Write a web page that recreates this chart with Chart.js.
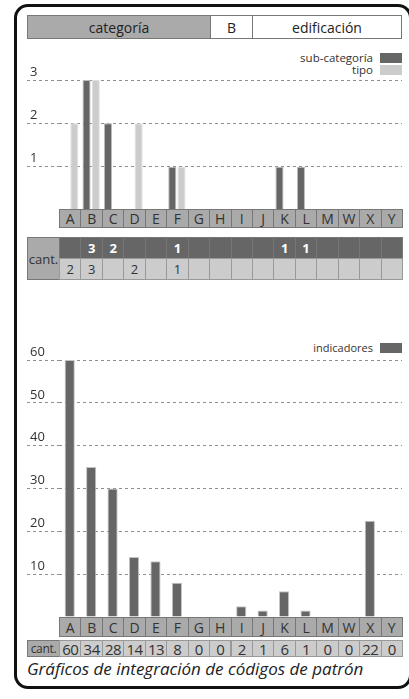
<!DOCTYPE html>
<html>
<head>
<meta charset="utf-8">
<script src="https://cdn.jsdelivr.net/npm/chart.js@4/dist/chart.umd.min.js"></script>
<style>
  body { margin: 0; width: 409px; height: 699px; position: relative; background: #fff; overflow: hidden; font-family: "Open Sans", sans-serif; color: #222; }
  .abs { position: absolute; box-sizing: border-box; }
  .frame { left: 14px; top: 4px; width: 398px; height: 685px; border: 3px solid #111; border-radius: 14px; }
  .cell { position: absolute; box-sizing: border-box; display: flex; align-items: center; justify-content: center; border: 1px solid #777; }
  .hdr { font-size: 14px; color: #222; }
  .cat { background: #aaa; font-size: 14px; color: #333; }
  .dark { background: #666; color: #fff; font-weight: bold; font-size: 13px; border-color: #777; }
  .light { background: #ccc; color: #333; font-size: 13px; border-color: #999; }
  .legend { font-size: 11.5px; color: #333; text-align: right; line-height: 12px; }
  .sw { position: absolute; width: 22px; height: 10px; }
  canvas { position: absolute; left: 0; }
</style>
</head>
<body>
<div class="abs frame"></div>

<div class="cell hdr" style="left:27px;top:15px;width:184px;height:24px;background:#aaa;">categoría</div>
<div class="cell hdr" style="left:210px;top:15px;width:43px;height:24px;background:#fff;">B</div>
<div class="cell hdr" style="left:252px;top:15px;width:150px;height:24px;background:#fff;">edificación</div>

<div class="abs legend" style="right:36px;top:52px;">sub-categoría</div>
<div class="sw" style="left:380px;top:53px;background:#666;"></div>
<div class="abs legend" style="right:36px;top:64px;">tipo</div>
<div class="sw" style="left:380px;top:65px;background:#ccc;"></div>

<canvas id="topChart" width="409" height="170" style="top:40px;"></canvas>

<div class="abs legend" style="right:36px;top:342px;font-size:11px;">indicadores</div>
<div class="sw" style="left:380px;top:343px;background:#666;"></div>

<canvas id="bottomChart" width="409" height="282" style="top:335px;"></canvas>

<div class="abs" style="left:27px;top:657px;font-size:17px;font-style:italic;color:#222;">Gráficos de integración de códigos de patrón</div>

<div id="cells"></div>

<script>
// categorías comunes
const categorias = ['A', 'B', 'C', 'D', 'E', 'F', 'G', 'H', 'I', 'J', 'K', 'L', 'M', 'W', 'X', 'Y'];

// gráfico superior
const subCategoria = [0, 3, 2, 0, 0, 1, 0, 0, 0, 0, 1, 1, 0, 0, 0, 0];
const tipo = [2, 3, 0, 2, 0, 1, 0, 0, 0, 0, 0, 0, 0, 0, 0, 0];

// gráfico inferior (alturas dibujadas) y cantidades de la tabla
const indicadores = [60, 35, 30, 14, 13, 8, 0, 0, 2.5, 1.5, 6, 1.5, 0, 0, 22.5, 0];
const cantidades = [60, 34, 28, 14, 13, 8, 0, 0, 2, 1, 6, 1, 0, 0, 22, 0];

const DARK = '#666666';
const LIGHT = '#cccccc';
const GRID = '#8f8f8f';

// los ceros no se dibujan
const sinCeros = arr => arr.map(v => v === 0 ? null : v);

function yAxis(max, step) {
    return {
        min: 0,
        max: max,
        border: { display: false, dash: [3, 3] },
        afterFit: function (scale) { scale.width = 32; },
        grid: {
            color: ctx => ctx.tick && ctx.tick.value === 0 ? 'rgba(0,0,0,0)' : GRID,
            tickColor: ctx => ctx.tick && ctx.tick.value === 0 ? 'rgba(0,0,0,0)' : GRID,
            tickBorderDash: [3, 3],
            tickLength: 32,
            lineWidth: 1
        },
        ticks: {
            stepSize: step,
            mirror: true,
            crossAlign: 'near',
            padding: -29,
            labelOffset: -8,
            color: '#333',
            font: { family: 'Open Sans', size: 13 },
            callback: value => value === 0 ? '' : value
        }
    };
}

const commonOptions = (padTop, max, step) => ({
    responsive: false,
    animation: false,
    devicePixelRatio: 1,
    layout: { padding: { top: padTop, left: 27, right: 7, bottom: 0 } },
    plugins: { legend: { display: false }, tooltip: { enabled: false } },
    scales: {
        x: { display: false },
        y: yAxis(max, step)
    }
});

const topChart = new Chart(document.getElementById('topChart'), {
    type: 'bar',
    data: {
        labels: categorias,
        datasets: [{
            label: 'sub-categoría',
            data: sinCeros(subCategoria),
            backgroundColor: DARK,
            borderColor: '#bdbdbd',
            borderWidth: 1,
            categoryPercentage: 0.86,
            barPercentage: 0.88
        }, {
            label: 'tipo',
            data: sinCeros(tipo),
            backgroundColor: LIGHT,
            borderColor: '#e0e0e0',
            borderWidth: 1,
            categoryPercentage: 0.86,
            barPercentage: 0.88
        }]
    },
    options: commonOptions(40, 3, 1)
});

const bottomChart = new Chart(document.getElementById('bottomChart'), {
    type: 'bar',
    data: {
        labels: categorias,
        datasets: [{
            label: 'indicadores',
            data: sinCeros(indicadores),
            backgroundColor: DARK,
            borderColor: '#c4c4c4',
            borderWidth: 1,
            categoryPercentage: 0.5,
            barPercentage: 0.95
        }]
    },
    options: commonOptions(25, 60, 10)
});

// filas de categorías y tablas, alineadas con la escala x
const cont = document.getElementById('cells');
function celda(cls, left, top, w, h, text, extra) {
    const d = document.createElement('div');
    d.className = 'cell ' + cls;
    d.style.left = left + 'px';
    d.style.top = top + 'px';
    d.style.width = (w + 1) + 'px';
    d.style.height = h + 'px';
    if (extra) d.style.cssText += extra;
    d.textContent = text;
    cont.appendChild(d);
}

function filaCategorias(chart, top, h) {
    const xs = chart.scales.x;
    const w = xs.width / categorias.length;
    categorias.forEach((c, i) => celda('cat', xs.getPixelForValue(i) - w / 2, top, w, h, c));
}

filaCategorias(topChart, 209, 19);
filaCategorias(bottomChart, 617, 20);

// tabla superior
(function () {
    const xs = topChart.scales.x;
    const w = xs.width / categorias.length;
    celda('cat', 27, 237, xs.left - 27, 43, 'cant.', 'font-size:13px;');
    categorias.forEach((c, i) => {
        const left = xs.getPixelForValue(i) - w / 2;
        celda('dark', left, 237, w, 22, subCategoria[i] ? subCategoria[i] : '');
        celda('light', left, 258, w, 22, tipo[i] ? tipo[i] : '');
    });
})();

// tabla inferior
(function () {
    const xs = bottomChart.scales.x;
    const w = xs.width / categorias.length;
    celda('cat', 27, 640, xs.left - 27, 17, 'cant.', 'font-size:12px;letter-spacing:-0.3px;');
    categorias.forEach((c, i) => {
        celda('light', xs.getPixelForValue(i) - w / 2, 640, w, 17, cantidades[i], 'font-size:15px;font-weight:normal;letter-spacing:-0.5px;');
    });
})();
</script>
</body>
</html>
